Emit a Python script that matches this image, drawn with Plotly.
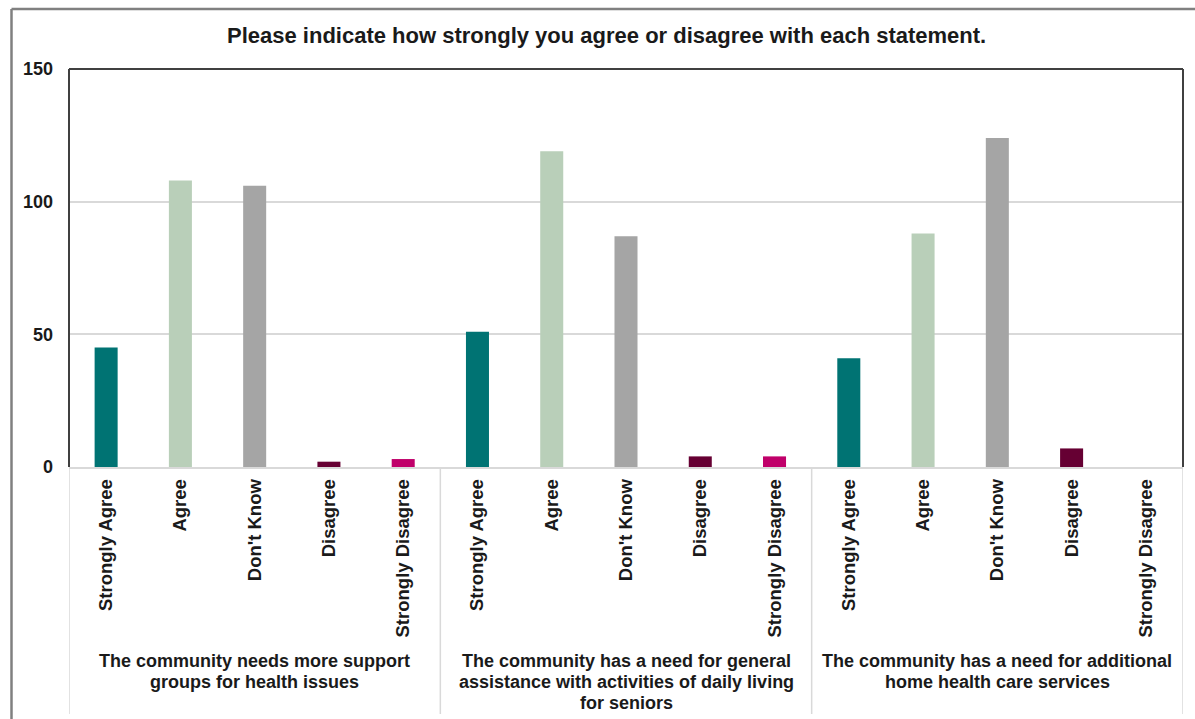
import plotly.graph_objects as go

# Survey responses per statement
statements = [
    ["The community needs more support", "groups for health issues"],
    ["The community has a need for general", "assistance with activities of daily living", "for seniors"],
    ["The community has a need for additional", "home health care services"],
]
responses = ["Strongly Agree", "Agree", "Don't Know", "Disagree", "Strongly Disagree"]
support_groups = [45, 108, 106, 2, 3]
daily_living = [51, 119, 87, 4, 4]
home_health = [41, 88, 124, 7, 0]
response_colors = ["#007373", "#B9CFB9", "#A5A5A5", "#660033", "#C0006A"]
y_ticks = [0, 50, 100, 150]

title_text = "Please indicate how strongly you agree or disagree with each statement."

series = [support_groups, daily_living, home_health]
FONT = "Liberation Sans, Arial, sans-serif"

W, H = 1195, 719
ML, MR, MT, MB = 69, 12, 69, 252
plot_w = W - ML - MR
plot_h = H - MT - MB


def px_x(px):
    return (px - ML) / plot_w


def px_y(py):
    return (H - MB - py) / plot_h


xs, ys, cols, ticktext = [], [], [], []
for g, vals in enumerate(series):
    for r, v in enumerate(vals):
        xs.append(g * len(responses) + r)
        ys.append(v)
        cols.append(response_colors[r])
        ticktext.append(responses[r])

fig = go.Figure(
    go.Bar(
        x=xs,
        y=ys,
        width=0.31,
        marker=dict(color=cols, line=dict(width=0)),
        hoverinfo="skip",
    )
)

n = len(xs)
shapes = []
# plot-area border (top, left, right)
border = dict(color="#404040", width=2)
shapes.append(dict(type="line", xref="paper", yref="paper", x0=0, x1=1, y0=1, y1=1, line=border))
shapes.append(dict(type="line", xref="paper", yref="paper", x0=0, x1=0, y0=0, y1=1, line=border))
shapes.append(dict(type="line", xref="paper", yref="paper", x0=1, x1=1, y0=0, y1=1, line=border))
# group dividers under the axis
for k in range(len(series) + 1):
    xv = k * len(responses) - 0.5
    shapes.append(dict(type="line", xref="x", yref="paper", x0=xv, x1=xv,
                       y0=0, y1=px_y(714), line=dict(color="#D9D9D9", width=1.5)))
# outer chart frame
frame = dict(color="#808080", width=2.5)
shapes.append(dict(type="line", xref="paper", yref="paper", x0=px_x(11.5), x1=px_x(11.5),
                   y0=px_y(725), y1=px_y(9), line=frame))
shapes.append(dict(type="line", xref="paper", yref="paper", x0=px_x(11.5), x1=px_x(1200),
                   y0=px_y(9), y1=px_y(9), line=frame))

annotations = []
line_gap = 21
for g, lines in enumerate(statements):
    cx = g * len(responses) + (len(responses) - 1) / 2
    for j, line in enumerate(lines):
        annotations.append(dict(
            x=cx, xref="x", y=px_y(661 + j * line_gap), yref="paper",
            text=f"<b>{line}</b>", showarrow=False, xanchor="center", yanchor="middle",
            font=dict(family=FONT, size=18, color="#1a1a1a"),
        ))
annotations.append(dict(
    x=px_x(606), xref="paper", y=px_y(36), yref="paper",
    text=f"<b>{title_text}</b>", showarrow=False, xanchor="center", yanchor="middle",
    font=dict(family=FONT, size=22, color="#1a1a1a"),
))

fig.update_layout(
    width=W, height=H,
    margin=dict(l=ML, r=MR, t=MT, b=MB),
    paper_bgcolor="white", plot_bgcolor="white",
    showlegend=False,
    shapes=shapes,
    annotations=annotations,
    xaxis=dict(
        range=[-0.5, n - 0.5],
        tickmode="array", tickvals=xs, ticktext=[f"<b>{t}</b>" for t in ticktext],
        tickangle=-90, ticks="", ticklabelstandoff=3,
        tickfont=dict(family=FONT, size=18.5, color="#1a1a1a"),
        showgrid=False, zeroline=False,
        showline=True, linecolor="#D9D9D9", linewidth=1.5,
        fixedrange=True,
    ),
    yaxis=dict(
        range=[0, 150], tickmode="array", tickvals=y_ticks,
        ticktext=[f"<b>{v}</b>" for v in y_ticks],
        ticks="", ticklabelstandoff=15,
        tickfont=dict(family=FONT, size=18, color="#1a1a1a"),
        showgrid=True, gridcolor="#D9D9D9", gridwidth=1.5,
        zeroline=False, showline=False,
        fixedrange=True,
    ),
)

fig.write_html("out.html")
